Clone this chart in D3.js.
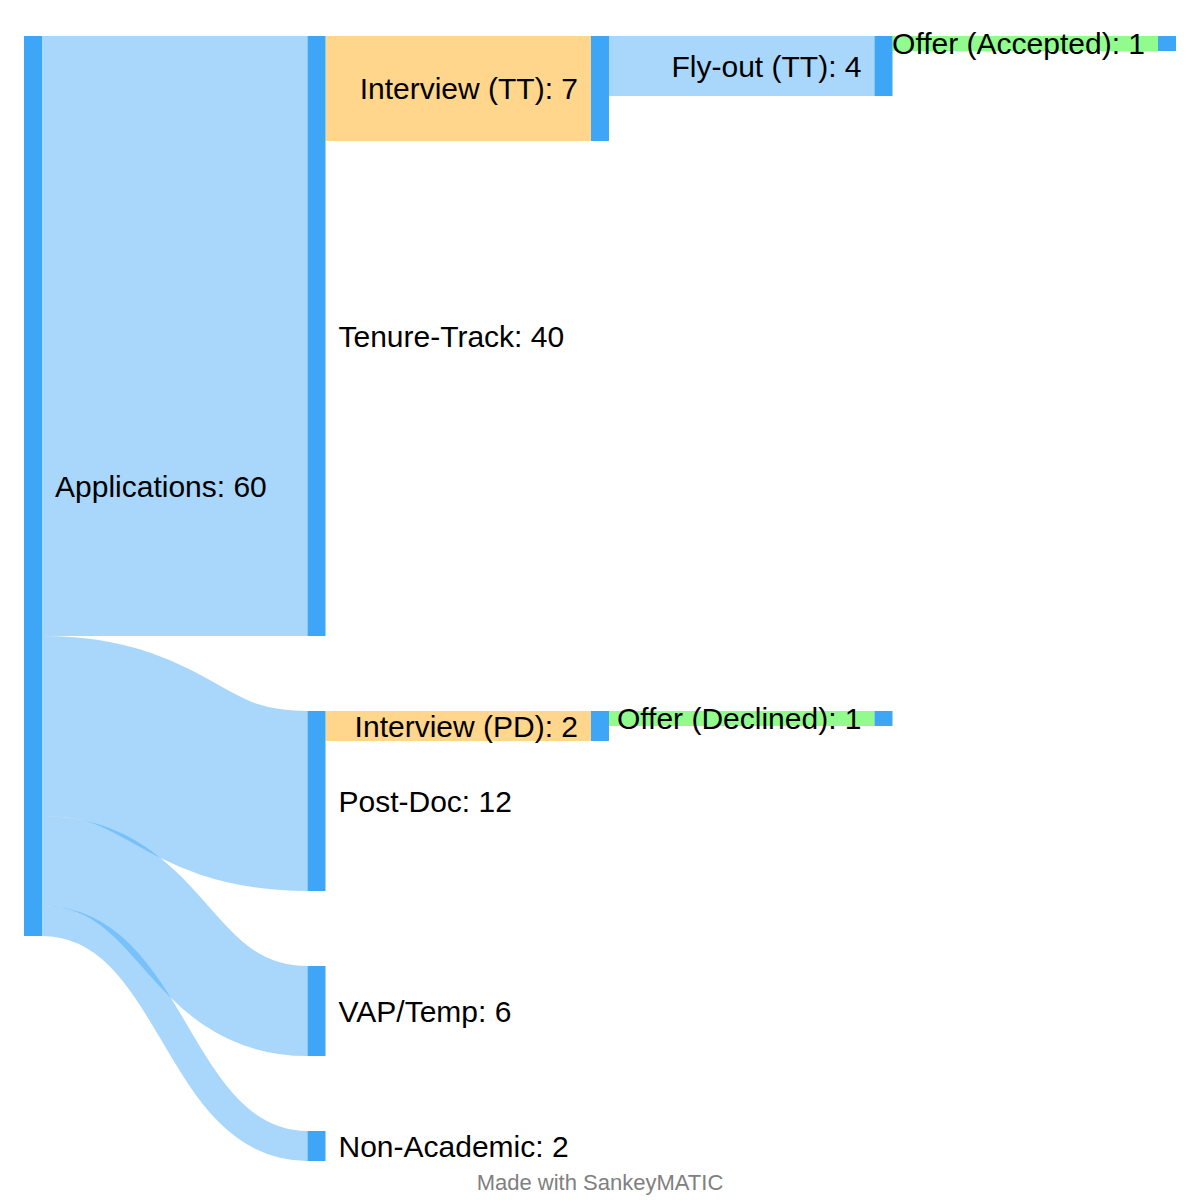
<!DOCTYPE html>
<html><head><meta charset="utf-8">
<script src="https://cdn.jsdelivr.net/npm/d3@7"></script>
<style>body{margin:0;background:#fff}</style>
</head><body>
<svg id="chart" width="1200" height="1200"></svg>
<script>
// ---------- data ----------
const nodeNames = ["Applications","Tenure-Track","Post-Doc","VAP/Temp","Non-Academic",
                   "Interview (TT)","Interview (PD)","Fly-out (TT)","Offer (Declined)","Offer (Accepted)"];
const flowSources = ["Applications","Applications","Applications","Applications",
                     "Tenure-Track","Post-Doc","Interview (TT)","Interview (PD)","Fly-out (TT)"];
const flowTargets = ["Tenure-Track","Post-Doc","VAP/Temp","Non-Academic",
                     "Interview (TT)","Interview (PD)","Fly-out (TT)","Offer (Declined)","Offer (Accepted)"];
const flowValues = [40, 12, 6, 2, 7, 2, 4, 1, 1];
const footerText = "Made with SankeyMATIC";

// ---------- styles / layout parameters ----------
const NODE_COLOR = "#3ea6f6";
const FLOW_COLOR = "#3ea6f6";
const flowColorByTarget = {
  "Interview (TT)": "#ffa300", "Interview (PD)": "#ffa300",
  "Offer (Declined)": "#0df604", "Offer (Accepted)": "#0df604"
};
const FLOW_OPACITY = 0.45;
const EXT = {x0: 24, y0: 36, x1: 1176, y1: 1161};
const NODE_W = 18, NODE_PAD = 75, LABEL_GAP = 13, FONT = 30;

// ---------- layout ----------
const nodes = nodeNames.map((name, i) => ({name, index: i, sourceLinks: [], targetLinks: []}));
const byName = new Map(nodes.map(n => [n.name, n]));
const links = flowValues.map((v, i) => {
  const l = {source: byName.get(flowSources[i]), target: byName.get(flowTargets[i]), value: v, index: i};
  l.source.sourceLinks.push(l); l.target.targetLinks.push(l);
  return l;
});
nodes.forEach(n => {
  n.value = Math.max(d3.sum(n.sourceLinks, l => l.value), d3.sum(n.targetLinks, l => l.value));
});
// depth (left aligned)
let changed = true;
nodes.forEach(n => n.depth = 0);
while (changed) {
  changed = false;
  links.forEach(l => { if (l.target.depth < l.source.depth + 1) { l.target.depth = l.source.depth + 1; changed = true; } });
}
const maxDepth = d3.max(nodes, n => n.depth);
const columns = d3.range(maxDepth + 1).map(d => nodes.filter(n => n.depth === d));
const ky = d3.min(columns, c => (EXT.y1 - EXT.y0 - (c.length - 1) * NODE_PAD) / d3.sum(c, n => n.value));
const xPos = d3.scaleLinear().domain([0, maxDepth]).range([EXT.x0, EXT.x1 - NODE_W]);
const hScale = d3.scaleLinear().domain([0, 1]).range([0, ky]);
links.forEach(l => l.width = hScale(l.value));

columns.forEach(col => {
  let y = EXT.y0;
  col.forEach(n => {
    n.x0 = xPos(n.depth); n.x1 = n.x0 + NODE_W;
    const h = hScale(n.value);
    if (n.targetLinks.length) {
      // align with where its incoming flows leave their sources
      let s = 0, w = 0;
      n.targetLinks.forEach(l => {
        let off = 0;
        for (const sl of l.source.sourceLinks) { if (sl === l) break; off += sl.width; }
        s += (l.source.y0 + off) * l.value; w += l.value;
      });
      n.y0 = s / w;
    } else {
      n.y0 = y;
    }
    n.y1 = n.y0 + h;
    y = n.y1 + NODE_PAD;
  });
  col.sort((a, b) => a.y0 - b.y0);
  let yy = EXT.y0;
  col.forEach(n => { const dy = yy - n.y0; if (dy > 0) { n.y0 += dy; n.y1 += dy; } yy = n.y1 + NODE_PAD; });
  let over = col.length ? col[col.length - 1].y1 - EXT.y1 : 0;
  if (over > 0) {
    let yb = EXT.y1;
    for (let i = col.length - 1; i >= 0; i--) {
      const n = col[i]; const dy = n.y1 - yb;
      if (dy > 0) { n.y0 -= dy; n.y1 -= dy; }
      yb = n.y0 - NODE_PAD;
    }
  }
});
// link positions
nodes.forEach(n => {
  n.sourceLinks.sort((a, b) => a.target.y0 - b.target.y0);
  n.targetLinks.sort((a, b) => a.source.y0 - b.source.y0);
  let y = n.y0;
  n.sourceLinks.forEach(l => { l.y0 = y + l.width / 2; y += l.width; });
  y = n.y0;
  n.targetLinks.forEach(l => { l.y1 = y + l.width / 2; y += l.width; });
});

// ---------- draw ----------
const svg = d3.select("#chart");
const linkGen = d3.linkHorizontal().source(l => [l.source.x1, l.y0]).target(l => [l.target.x0, l.y1]);

svg.append("g").attr("fill", "none")
  .selectAll("path").data(links).join("path")
  .attr("d", linkGen)
  .attr("stroke", l => flowColorByTarget[l.target.name] || FLOW_COLOR)
  .attr("stroke-opacity", FLOW_OPACITY)
  .attr("stroke-width", l => l.width);

svg.append("g")
  .selectAll("rect").data(nodes).join("rect")
  .attr("x", n => n.x0).attr("y", n => n.y0)
  .attr("width", n => n.x1 - n.x0).attr("height", n => Math.max(1, n.y1 - n.y0))
  .attr("fill", NODE_COLOR);

const fmt = d3.format(",");
svg.append("g")
  .attr("font-family", "'Liberation Sans', Arial, Helvetica, sans-serif")
  .attr("font-size", FONT).attr("fill", "#000")
  .selectAll("text").data(nodes).join("text")
  .attr("x", n => n.depth * 2 >= maxDepth ? n.x0 - LABEL_GAP : n.x1 + LABEL_GAP)
  .attr("y", n => (n.y0 + n.y1) / 2)
  .attr("dy", "0.35em")
  .attr("text-anchor", n => n.depth * 2 >= maxDepth ? "end" : "start")
  .text(n => `${n.name}: ${fmt(n.value)}`);

svg.append("text")
  .attr("x", 600).attr("y", 1190)
  .attr("text-anchor", "middle")
  .attr("font-family", "'Liberation Sans', Arial, Helvetica, sans-serif")
  .attr("font-size", 22).attr("fill", "#808080")
  .text(footerText);
</script>
</body></html>
